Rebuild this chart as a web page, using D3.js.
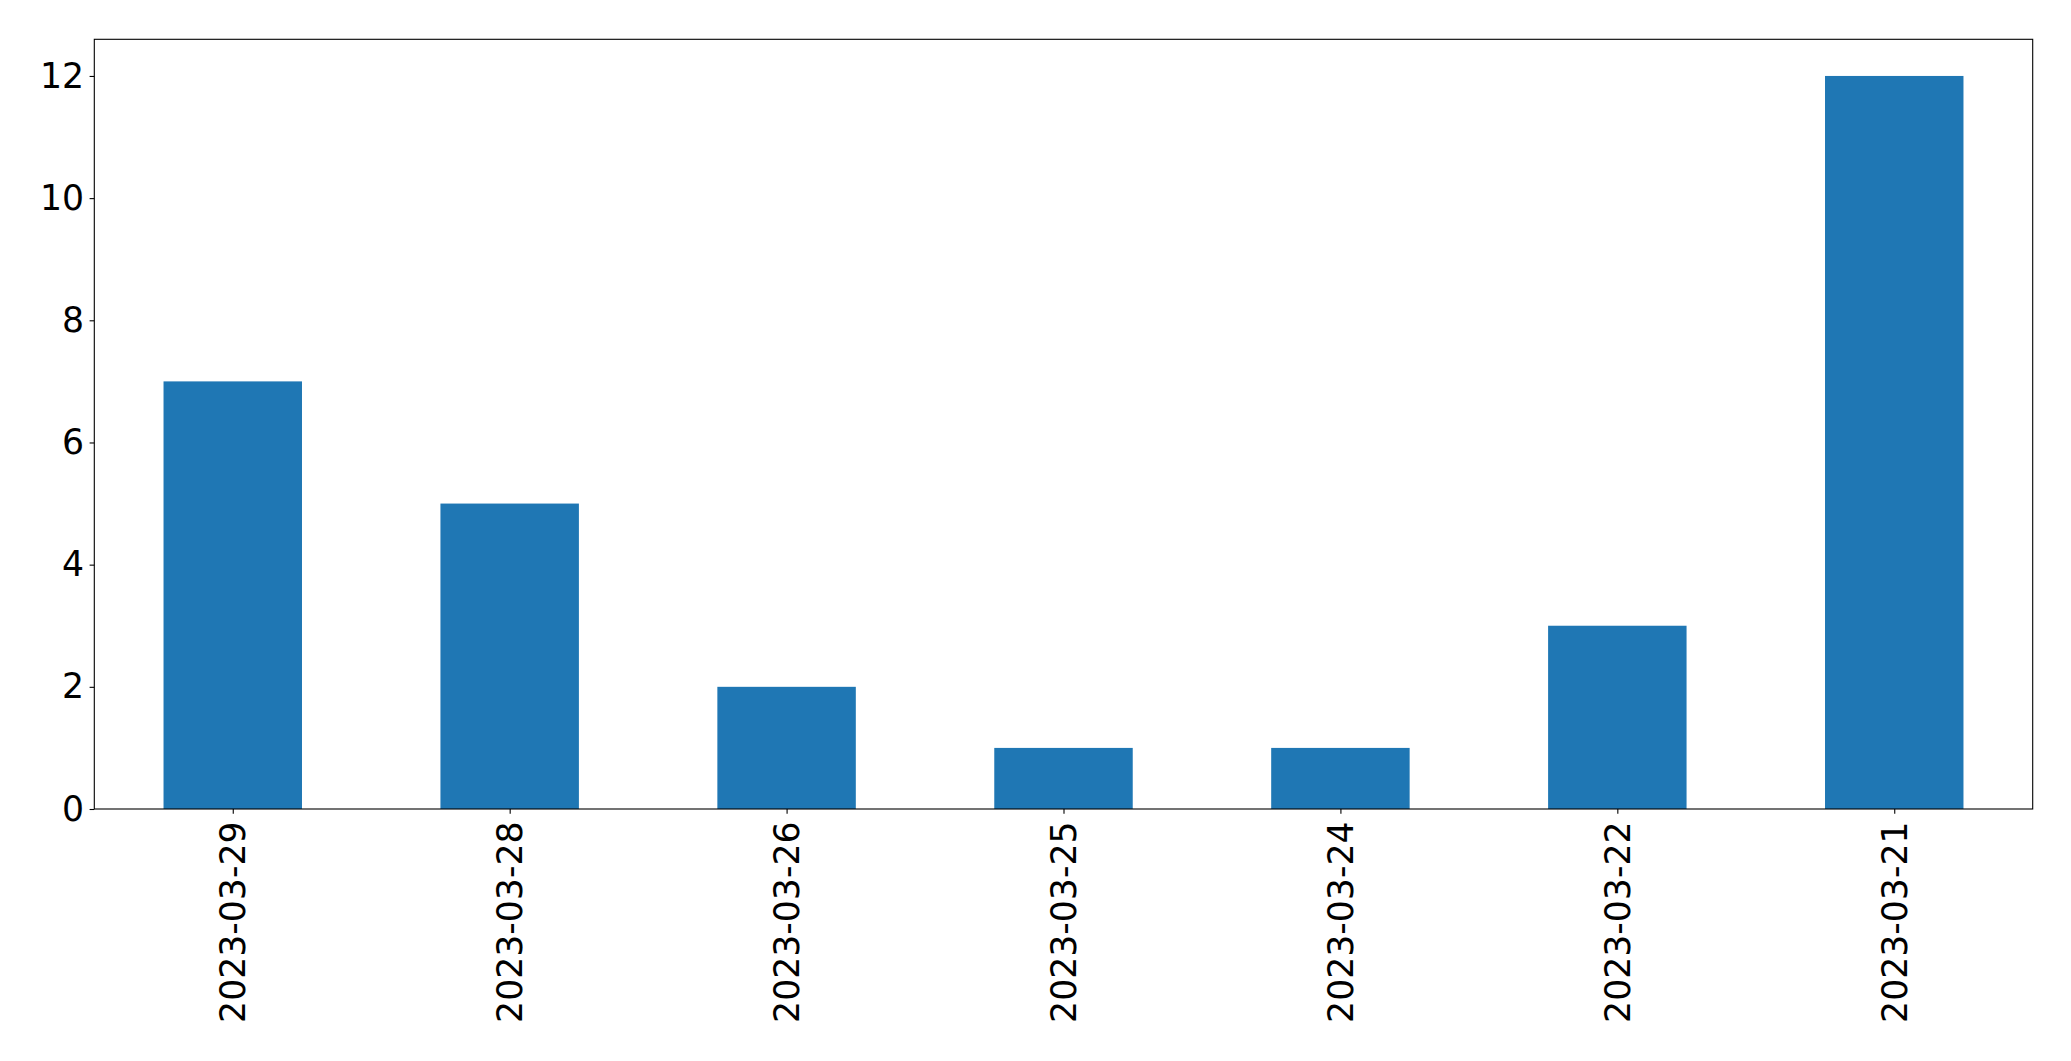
<!DOCTYPE html>
<html>
<head>
<meta charset="utf-8">
<script src="https://cdn.jsdelivr.net/npm/d3@7"></script>
<style>
  html, body { margin: 0; padding: 0; background: #fff; }
  svg { display: block; }
  text { font-family: "DejaVu Sans", sans-serif; fill: #000; }
</style>
</head>
<body>
<svg id="chart" width="2071" height="1061"></svg>
<script>
const categories = ["2023-03-29", "2023-03-28", "2023-03-26", "2023-03-25", "2023-03-24", "2023-03-22", "2023-03-21"];
const values = [7, 5, 2, 1, 1, 3, 12];
const yTicks = [0, 2, 4, 6, 8, 10, 12];

const W = 2071, H = 1061;
const margin = { left: 94.3, right: W - 2032.7, top: 39.3, bottom: H - 809 };
const pw = W - margin.left - margin.right;
const ph = H - margin.top - margin.bottom;
const fontPx = 34.67;
const tickLen = 4.7;

const svg = d3.select("#chart");
const g = svg.append("g").attr("transform", `translate(${margin.left},${margin.top})`);

const x = d3.scaleLinear().domain([-0.5, categories.length - 0.5]).range([0, pw]);
const y = d3.scaleLinear().domain([0, d3.max(values) * 1.05]).range([ph, 0]);
const barW = x(0.5) - x(0);

g.selectAll("rect.bar")
  .data(values)
  .enter().append("rect")
  .attr("class", "bar")
  .attr("x", (d, i) => x(i) - barW / 2)
  .attr("width", barW)
  .attr("y", d => y(d))
  .attr("height", d => y(0) - y(d))
  .attr("fill", "#1f77b4");

// Y axis
const yAxis = g.append("g")
  .call(d3.axisLeft(y).tickValues(yTicks).tickFormat(d3.format("d")).tickSizeInner(tickLen).tickSizeOuter(0).tickPadding(5.5));
yAxis.select(".domain").remove();
yAxis.selectAll(".tick line").attr("stroke", "#000").attr("stroke-width", 1.1);
yAxis.selectAll(".tick text").style("font-size", fontPx + "px").style("font-family", "DejaVu Sans");

// X axis
const xAxis = g.append("g").attr("transform", `translate(0,${ph})`)
  .call(d3.axisBottom(x).tickValues(d3.range(categories.length)).tickFormat(i => categories[i]).tickSizeInner(tickLen).tickSizeOuter(0).tickPadding(0));
xAxis.select(".domain").remove();
xAxis.selectAll(".tick line").attr("stroke", "#000").attr("stroke-width", 1.1);
xAxis.selectAll(".tick text")
  .style("font-size", fontPx + "px")
  .style("font-family", "DejaVu Sans")
  .attr("y", 0).attr("dy", null)
  .attr("text-anchor", "end")
  .attr("dominant-baseline", "central")
  .attr("transform", "translate(0,12.5) rotate(-90)");

// Frame
g.append("rect")
  .attr("x", 0).attr("y", 0).attr("width", pw).attr("height", ph)
  .attr("fill", "none").attr("stroke", "#000").attr("stroke-width", 1.1);
</script>
</body>
</html>
